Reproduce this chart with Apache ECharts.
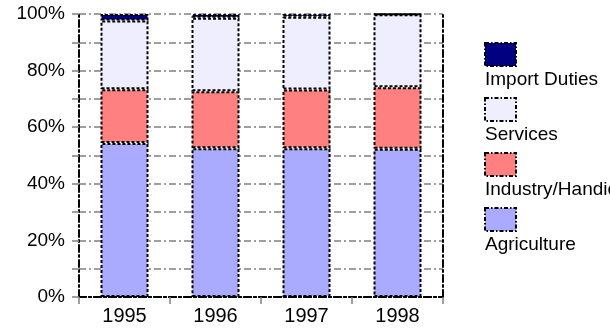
<!DOCTYPE html>
<html>
<head>
<meta charset="utf-8">
<script src="https://cdn.jsdelivr.net/npm/echarts@6/dist/echarts.min.js"></script>
<style>html,body{margin:0;padding:0;background:#fff;}#c{width:610px;height:331px;}</style>
</head>
<body>
<div id="c"></div>
<script>
var categories = ['1995', '1996', '1997', '1998'];
var agriculture = [54.4, 52.6, 52.6, 52.4];
var industry = [19.0, 20.1, 20.7, 21.7];
var services = [24.3, 26.0, 25.7, 25.8];
var importDuties = [2.3, 1.3, 1.0, 0.1];
var seriesNames = ['Agriculture', 'Industry/Handicraft', 'Services', 'Import Duties'];
var seriesColors = ['#aaaaff', '#ff8080', '#eeeeff', '#000080'];
var yTicks = [0, 20, 40, 60, 80, 100];

var chart = echarts.init(document.getElementById('c'), null, {renderer: 'canvas'});
var dashDot = [7, 3, 2, 3];
var seriesData = [agriculture, industry, services, importDuties];
var series = seriesData.map(function (d, i) {
  return {
    name: seriesNames[i],
    type: 'bar',
    stack: 'total',
    barWidth: 48,
    data: d,
    itemStyle: {color: seriesColors[i], borderColor: '#000', borderWidth: 2, borderType: [3, 2]}
  };
});

// legend built from names/colors (icons above text)
var legendGraphics = [];
var order = [3, 2, 1, 0];
order.forEach(function (idx, k) {
  var y0 = 42 + k * 55;
  legendGraphics.push({
    type: 'rect', left: 484, top: y0,
    shape: {width: 31, height: 23},
    style: {fill: seriesColors[idx], stroke: '#000', lineWidth: 2, lineDash: [4, 2, 1.5, 2]}
  });
  legendGraphics.push({
    type: 'text', left: 485, top: y0 + 28,
    style: {text: seriesNames[idx], fill: '#000', font: '19px "Liberation Sans", Arial, sans-serif'}
  });
});

chart.setOption({
  animation: false,
  backgroundColor: '#fff',
  grid: {left: 79, right: 167, top: 14, bottom: 34, containLabel: false},
  xAxis: [{
    type: 'category', data: categories, position: 'bottom',
    axisLine: {lineStyle: {color: '#000', width: 2, type: dashDot}},
    axisTick: {show: true, length: 7, lineStyle: {color: '#808080', width: 1.5}},
    axisLabel: {color: '#000', fontSize: 20, fontFamily: '"Liberation Sans", Arial, sans-serif', margin: 9},
    splitLine: {show: false}
  }, {
    type: 'category', data: categories, position: 'top',
    axisLine: {lineStyle: {color: '#000', width: 2, type: dashDot}},
    axisTick: {show: false}, axisLabel: {show: false}
  }],
  yAxis: [{
    type: 'value', min: 0, max: 100, interval: 10,
    axisLine: {show: true, lineStyle: {color: '#000', width: 2, type: dashDot}},
    axisTick: {show: true, length: 7, lineStyle: {color: '#808080', width: 1.5}},
    axisLabel: {
      color: '#000', fontSize: 19, fontFamily: '"Liberation Sans", Arial, sans-serif', margin: 14,
      formatter: function (v) { return yTicks.indexOf(v) >= 0 ? v + '%' : ''; }
    },
    splitLine: {show: true, lineStyle: {color: '#808080', width: 1.5, type: dashDot}}
  }, {
    type: 'value', min: 0, max: 100, interval: 10, position: 'right',
    axisLine: {show: true, lineStyle: {color: '#000', width: 2, type: dashDot}},
    axisTick: {show: false}, axisLabel: {show: false}, splitLine: {show: false}
  }],
  graphic: legendGraphics,
  series: series
});
</script>
</body>
</html>
